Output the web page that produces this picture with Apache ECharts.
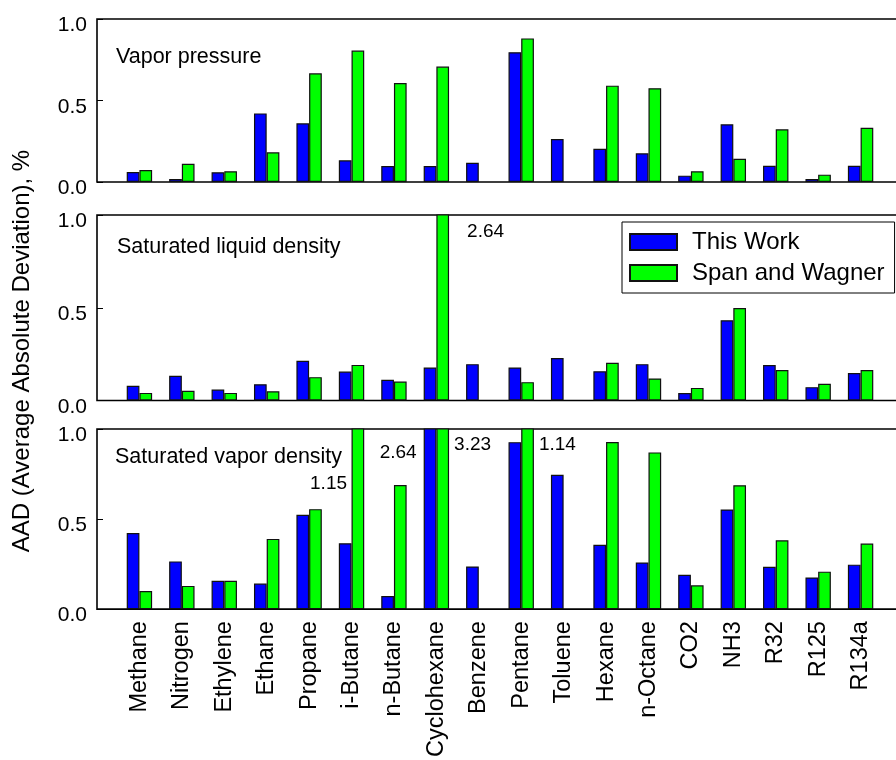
<!DOCTYPE html>
<html>
<head>
<meta charset="utf-8">
<title>AAD comparison</title>
<script src="https://cdn.jsdelivr.net/npm/echarts@6/dist/echarts.min.js"></script>
<style>
  html, body { margin: 0; padding: 0; background: #fff; overflow: hidden; }
  /* the plotting frames run slightly past the right edge of the page */
  #chart { width: 920px; height: 760px; }
</style>
</head>
<body>
<div id="chart"></div>
<script>
// Fluids compared
const categories = ['Methane', 'Nitrogen', 'Ethylene', 'Ethane', 'Propane', 'i-Butane', 'n-Butane',
  'Cyclohexane', 'Benzene', 'Pentane', 'Toluene', 'Hexane', 'n-Octane', 'CO2', 'NH3', 'R32', 'R125', 'R134a'];

const seriesNames = ['This Work', 'Span and Wagner'];
const panelTitles = ['Vapor pressure', 'Saturated liquid density', 'Saturated vapor density'];
const yTicks = [0.0, 0.5, 1.0];

// AAD, % — vapor pressure
const vaporPressureThisWork = [0.061, 0.018, 0.060, 0.421, 0.360, 0.133, 0.098, 0.098, 0.118, 0.796, 0.264, 0.204, 0.176, 0.039, 0.354, 0.100, 0.018, 0.100];
const vaporPressureSpanWagner = [0.074, 0.112, 0.066, 0.182, 0.667, 0.806, 0.607, 0.708, null, 0.881, null, 0.591, 0.575, 0.066, 0.143, 0.323, 0.045, 0.333];
// AAD, % — saturated liquid density
const liquidDensityThisWork = [0.079, 0.133, 0.059, 0.088, 0.214, 0.156, 0.112, 0.178, 0.196, 0.178, 0.229, 0.158, 0.196, 0.040, 0.433, 0.191, 0.072, 0.148];
const liquidDensitySpanWagner = [0.041, 0.052, 0.041, 0.050, 0.126, 0.192, 0.102, 2.64, null, 0.099, null, 0.203, 0.119, 0.068, 0.498, 0.164, 0.090, 0.164];
// AAD, % — saturated vapor density
const vaporDensityThisWork = [0.423, 0.265, 0.158, 0.142, 0.524, 0.366, 0.073, 2.64, 0.237, 0.927, 0.746, 0.357, 0.259, 0.191, 0.553, 0.235, 0.176, 0.247];
const vaporDensitySpanWagner = [0.101, 0.129, 0.158, 0.390, 0.555, 1.15, 0.689, 3.23, null, 1.14, null, 0.928, 0.870, 0.132, 0.688, 0.382, 0.208, 0.364];

const panels = [
  [vaporPressureThisWork, vaporPressureSpanWagner],
  [liquidDensityThisWork, liquidDensitySpanWagner],
  [vaporDensityThisWork, vaporDensitySpanWagner]
];

const FONT = '"Liberation Sans", Arial, Helvetica, sans-serif';
const colors = ['#0000ff', '#00ff00'];
const BAR_W = 12.7;

// Panel frames (px)
const frames = [
  { top: 19, height: 163 },
  { top: 215, height: 185.5 },
  { top: 429, height: 181 }
];
const LEFT = 97, WIDTH = 806;

// Where the value of a bar that runs off the top of its panel is written:
// [panel, series, category] -> label offset from the clipped bar's top-left corner
const overflowPlacement = {
  '1|1|Cyclohexane': { dx: BAR_W + 18, dy: 17, align: 'left' },
  '2|1|i-Butane': { dx: -4.5, dy: 55, align: 'right' },
  '2|0|Cyclohexane': { dx: -7, dy: 24, align: 'right' },
  '2|1|Cyclohexane': { dx: BAR_W + 5, dy: 16, align: 'left' },
  '2|1|Pentane': { dx: BAR_W + 5, dy: 16, align: 'left' }
};

const axisMax = yTicks[yTicks.length - 1];
// one empty slot at each end of the category axis
const axisCats = [''].concat(categories, ['']);

function buildData(values, p, s) {
  const out = [null];
  values.forEach((v, i) => {
    if (v !== null && v > axisMax) {
      const pl = overflowPlacement[p + '|' + s + '|' + categories[i]] || { dx: BAR_W + 5, dy: 16, align: 'left' };
      out.push({
        value: v,
        label: {
          show: true,
          position: [pl.dx, pl.dy],
          align: pl.align,
          verticalAlign: 'middle',
          formatter: () => v.toFixed(2),
          color: '#000',
          fontFamily: FONT,
          fontSize: 19
        }
      });
    } else {
      out.push(v);
    }
  });
  out.push(null);
  return out;
}

const grids = frames.map(f => ({
  left: LEFT, width: WIDTH, top: f.top, height: f.height,
  show: true, borderColor: '#000', borderWidth: 1.6, backgroundColor: 'transparent'
}));

const xAxes = frames.map((f, i) => ({
  type: 'category',
  gridIndex: i,
  data: axisCats,
  boundaryGap: false,
  axisLine: { show: false },
  axisTick: { show: false },
  splitLine: { show: false },
  axisLabel: i === frames.length - 1 ? {
    show: true,
    interval: 0,
    rotate: 90,
    margin: 12,
    color: '#000',
    fontFamily: FONT,
    fontSize: 23.5
  } : { show: false }
}));

const yAxes = frames.map((f, i) => ({
  type: 'value',
  gridIndex: i,
  min: yTicks[0],
  max: axisMax,
  interval: yTicks[1] - yTicks[0],
  axisLine: { show: false },
  axisTick: { show: true, inside: true, length: 6, lineStyle: { color: '#000', width: 1 } },
  splitLine: { show: false },
  axisLabel: {
    margin: 10,
    color: '#000',
    fontFamily: FONT,
    fontSize: 21,
    verticalAlign: 'top',
    lineHeight: 13,
    formatter: v => v.toFixed(1)
  }
}));

const series = [];
panels.forEach((pair, p) => {
  pair.forEach((values, s) => {
    series.push({
      name: seriesNames[s],
      type: 'bar',
      xAxisIndex: p,
      yAxisIndex: p,
      barWidth: BAR_W,
      barGap: '0%',
      clip: true,
      itemStyle: { color: colors[s], borderColor: '#111', borderWidth: 1.2 },
      emphasis: { disabled: true },
      data: buildData(values, p, s),
      z: 2
    });
  });
});

const titleGraphics = panelTitles.map((t, i) => ({
  type: 'text',
  x: [116, 117, 115][i],
  y: [56.7, 246.7, 456.7][i],
  style: { text: t, fill: '#000', font: '21.5px ' + FONT, verticalAlign: 'middle' }
}));

const option = {
  animation: false,
  backgroundColor: '#fff',
  textStyle: { fontFamily: FONT },
  grid: grids,
  xAxis: xAxes,
  yAxis: yAxes,
  legend: {
    data: seriesNames,
    orient: 'vertical',
    left: 622,
    top: 222,
    itemWidth: 47,
    itemHeight: 16,
    itemGap: 7,
    icon: 'rect',
    padding: [8, 10, 8, 7],
    borderColor: '#000',
    borderWidth: 1,
    backgroundColor: '#fff',
    selectedMode: false,
    textStyle: { color: '#000', fontFamily: FONT, fontSize: 24, padding: [0, 0, 0, 10] },
    z: 10
  },
  graphic: titleGraphics.concat([{
    type: 'text',
    x: 22,
    y: 351,
    rotation: Math.PI / 2,
    style: {
      text: 'AAD (Average Absolute Deviation), %',
      fill: '#000',
      font: '24px ' + FONT,
      align: 'center',
      verticalAlign: 'middle'
    }
  }]),
  series: series
};

const chart = echarts.init(document.getElementById('chart'), null, { renderer: 'canvas' });
chart.setOption(option);
</script>
</body>
</html>
